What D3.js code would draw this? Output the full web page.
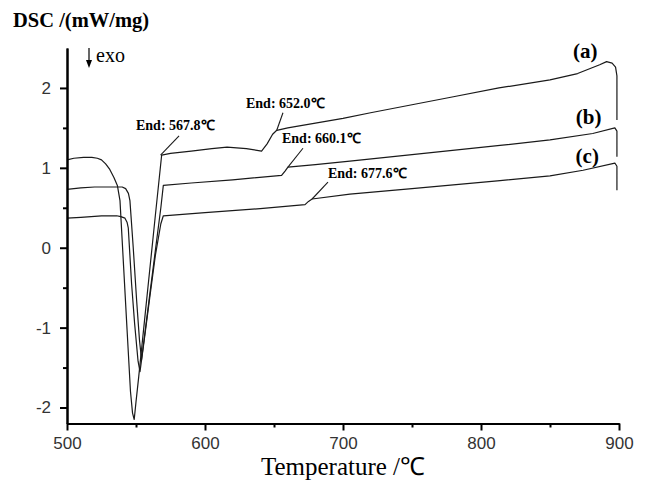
<!DOCTYPE html>
<html>
<head>
<meta charset="utf-8">
<script src="https://cdn.jsdelivr.net/npm/d3@7"></script>
<style>
  html, body { margin: 0; padding: 0; background: #fff; }
  svg { display: block; }
</style>
</head>
<body>
<svg id="chart" width="648" height="492"></svg>
<script>
// ---------- data ----------
const seriesNames = ["(a)", "(b)", "(c)"];

const tempA = [500, 505, 512, 518, 522, 525, 528, 531, 534, 536.5, 538.4, 541, 543.5, 546, 547.5, 548.7, 550, 552, 556, 560, 564, 567.5, 568.6, 575, 590, 605, 616, 630, 641, 645, 649, 652, 660, 680, 700, 720, 750, 780, 813, 850, 870, 886, 891, 895, 897.5, 898.5, 898.5];
const dscA  = [1.10, 1.12, 1.13, 1.13, 1.12, 1.10, 1.05, 0.98, 0.88, 0.78, 0.59, -0.23, -1.02, -1.80, -2.07, -2.15, -1.93, -1.61, -0.94, -0.27, 0.40, 0.98, 1.16, 1.18, 1.21, 1.24, 1.26, 1.24, 1.21, 1.30, 1.42, 1.47, 1.50, 1.56, 1.62, 1.69, 1.79, 1.89, 2.00, 2.10, 2.18, 2.29, 2.33, 2.31, 2.26, 2.15, 1.60];

const tempB = [500, 510, 520, 535, 540, 542.5, 544.5, 545.6, 548, 550.5, 552.5, 554, 556, 560, 564, 568, 569.8, 590, 620, 655.5, 658, 660.1, 680, 705, 750, 813.8, 850, 881, 897, 898.5, 898.5];
const dscB  = [0.73, 0.75, 0.76, 0.76, 0.76, 0.74, 0.68, 0.59, 0.0, -0.67, -1.15, -1.40, -1.13, -0.58, -0.04, 0.50, 0.78, 0.81, 0.85, 0.905, 0.96, 1.01, 1.04, 1.085, 1.165, 1.28, 1.35, 1.43, 1.50, 1.46, 1.14];

const tempC = [500, 510, 525, 536, 539, 542, 543.5, 544.4, 546.8, 549, 551.5, 552.9, 556, 560, 564, 568, 569.8, 600, 640, 672.5, 675, 677.6, 705, 750, 813.8, 850, 874, 897, 898.5, 898.5];
const dscC  = [0.37, 0.38, 0.40, 0.40, 0.39, 0.37, 0.32, 0.25, -0.45, -0.95, -1.42, -1.55, -1.15, -0.62, -0.10, 0.30, 0.40, 0.44, 0.49, 0.54, 0.58, 0.61, 0.67, 0.74, 0.84, 0.90, 0.97, 1.06, 1.02, 0.72];

const xTicks = [500, 600, 700, 800, 900];
const xMinorTicks = [550, 650, 750, 850];
const yTicks = [-2, -1, 0, 1, 2];
const yMinorTicks = [-1.5, -0.5, 0.5, 1.5];

const endLabels = ["End: 567.8\u2103", "End: 652.0\u2103", "End: 660.1\u2103", "End: 677.6\u2103"];
const endTemps  = [567.8, 652.0, 660.1, 677.6];
const endDsc    = [1.16, 1.47, 1.01, 0.61];

// ---------- layout (annotation anchors in data units) ----------
const endTextT   = [550.0, 629.7, 655.8, 689.1];
const endTextD   = [1.47, 1.75, 1.31, 0.87];
const endLeadT   = [581.2, 656.5, 671.0, 689.1];
const endLeadD   = [1.40, 1.69, 1.245, 0.82];
const seriesLabT = [875.5, 878, 877];
const seriesLabD = [2.38, 1.55, 1.06];

// ---------- scales ----------
const svg = d3.select("#chart");
const x = d3.scaleLinear().domain([500, 900]).range([67, 619]);
const y = d3.scaleLinear().domain([-2.2, 2.5]).range([423.5, 48]);

const serif = "'Liberation Serif', 'Times New Roman', serif";
const sans = "'Liberation Sans', Arial, sans-serif";
const fmt = d => String(d); // plain hyphen-minus like the reference

// ---------- curves ----------
const line = d3.line().x(d => x(d[0])).y(d => y(d[1]));
const curves = [
  d3.zip(tempA, dscA),
  d3.zip(tempB, dscB),
  d3.zip(tempC, dscC)
];
svg.append("g").selectAll("path").data(curves).join("path")
  .attr("d", line)
  .attr("fill", "none")
  .attr("stroke", "#1a1a1a")
  .attr("stroke-width", 1.2)
  .attr("stroke-linejoin", "round");

// ---------- axes ----------
svg.append("g").attr("transform", `translate(0,${y(-2.2)})`)
  .call(d3.axisBottom(x).tickValues(xTicks).tickSize(7).tickSizeOuter(0).tickPadding(6).tickFormat(fmt));
svg.append("g").attr("transform", `translate(0,${y(-2.2)})`)
  .call(d3.axisBottom(x).tickValues(xMinorTicks).tickSize(4).tickSizeOuter(0).tickFormat(""));
svg.append("g").attr("transform", `translate(${x(500)},0)`)
  .call(d3.axisLeft(y).tickValues(yTicks).tickSize(7).tickSizeOuter(0).tickPadding(9).tickFormat(fmt));
svg.append("g").attr("transform", `translate(${x(500)},0)`)
  .call(d3.axisLeft(y).tickValues(yMinorTicks).tickSize(4).tickSizeOuter(0).tickFormat(""));

svg.selectAll(".domain").attr("stroke", "#000").attr("stroke-width", 2);
svg.selectAll(".tick line").attr("stroke", "#000").attr("stroke-width", 2);
svg.selectAll(".tick text").attr("font-family", sans).attr("font-size", 17).attr("fill", "#333");

// ---------- annotations ----------
const ann = svg.append("g");
endLabels.forEach((t, i) => {
  ann.append("line")
    .attr("x1", x(endLeadT[i])).attr("y1", y(endLeadD[i]))
    .attr("x2", x(endTemps[i])).attr("y2", y(endDsc[i]))
    .attr("stroke", "#1a1a1a").attr("stroke-width", 1.1);
  ann.append("text")
    .attr("x", x(endTextT[i])).attr("y", y(endTextD[i]))
    .attr("font-family", serif).attr("font-weight", "bold").attr("font-size", 14)
    .attr("fill", "#000")
    .text(t);
});

seriesNames.forEach((t, i) => {
  svg.append("text")
    .attr("x", x(seriesLabT[i])).attr("y", y(seriesLabD[i]))
    .attr("text-anchor", "middle")
    .attr("font-family", serif).attr("font-weight", "bold").attr("font-size", 21)
    .text(t);
});

// ---------- titles ----------
svg.append("text")
  .attr("x", 13).attr("y", 27)
  .attr("font-family", serif).attr("font-weight", "bold").attr("font-size", 20.5)
  .text("DSC /(mW/mg)");

// exo arrow
svg.append("line").attr("x1", 89).attr("y1", 48).attr("x2", 89).attr("y2", 64)
  .attr("stroke", "#000").attr("stroke-width", 1.2);
svg.append("path").attr("d", "M86,60 L92,60 L89,68 Z").attr("fill", "#000");
svg.append("text").attr("x", 96).attr("y", 62)
  .attr("font-family", serif).attr("font-size", 20).text("exo");

svg.append("text")
  .attr("x", (x(500) + x(900)) / 2).attr("y", 475)
  .attr("text-anchor", "middle")
  .attr("font-family", serif).attr("font-size", 25)
  .text("Temperature /\u2103");
</script>
</body>
</html>
